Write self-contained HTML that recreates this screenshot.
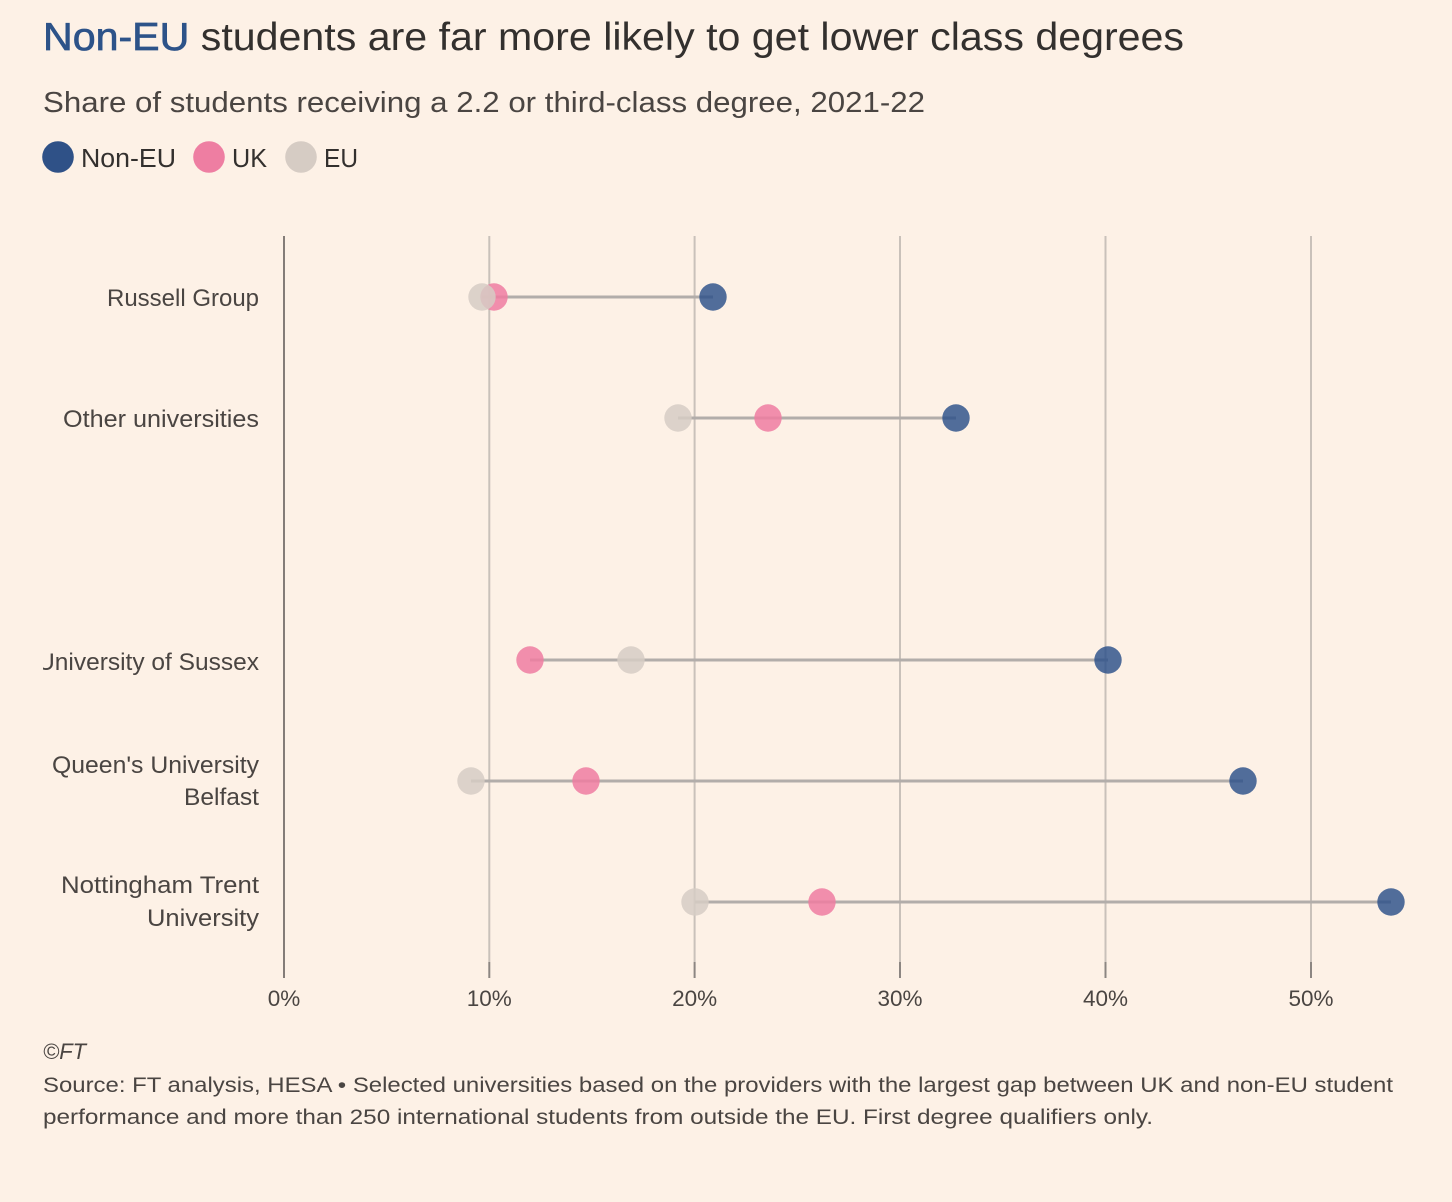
<!DOCTYPE html>
<html>
<head>
<meta charset="utf-8">
<style>
  html,body{margin:0;padding:0;background:#fdf1e6;}
  svg{display:block;}
  text{font-family:"Liberation Sans",sans-serif;}
</style>
</head>
<body>
<svg width="1452" height="1202" viewBox="0 0 1452 1202" xmlns="http://www.w3.org/2000/svg">
  <rect x="0" y="0" width="1452" height="1202" fill="#fdf1e6"/>
  <defs>
    <clipPath id="lc"><rect x="43" y="230" width="240" height="740"/></clipPath>
  </defs>

  <!-- Title -->
  <text x="43" y="50" font-size="39" fill="#33302e" textLength="1141" lengthAdjust="spacingAndGlyphs"><tspan fill="#2d5389" stroke="#2d5389" stroke-width="0.7">Non-EU</tspan> students are far more likely to get lower class degrees</text>
  <!-- Subtitle -->
  <text x="43" y="112" font-size="28.5" fill="#4a4542" textLength="882" lengthAdjust="spacingAndGlyphs">Share of students receiving a 2.2 or third-class degree, 2021-22</text>

  <!-- Legend -->
  <circle cx="58" cy="157" r="15.8" fill="#2f5187"/>
  <text x="81" y="167" font-size="25.5" fill="#33302e" textLength="95" lengthAdjust="spacingAndGlyphs">Non-EU</text>
  <circle cx="209" cy="157" r="15.8" fill="#ee7ea2"/>
  <text x="232" y="167" font-size="25.5" fill="#33302e" textLength="35" lengthAdjust="spacingAndGlyphs">UK</text>
  <circle cx="301" cy="157" r="15.8" fill="#d6ccc4"/>
  <text x="324" y="167" font-size="25.5" fill="#33302e" textLength="34" lengthAdjust="spacingAndGlyphs">EU</text>

  <!-- Gridlines -->
  <g stroke="#c9c1ba" stroke-width="2">
    <line x1="489.3" y1="236" x2="489.3" y2="962"/>
    <line x1="694.6" y1="236" x2="694.6" y2="962"/>
    <line x1="900" y1="236" x2="900" y2="962"/>
    <line x1="1105.5" y1="236" x2="1105.5" y2="962"/>
    <line x1="1311" y1="236" x2="1311" y2="962"/>
  </g>
  <g stroke="#8c8682" stroke-width="2">
    <line x1="489.3" y1="962" x2="489.3" y2="978"/>
    <line x1="694.6" y1="962" x2="694.6" y2="978"/>
    <line x1="900" y1="962" x2="900" y2="978"/>
    <line x1="1105.5" y1="962" x2="1105.5" y2="978"/>
    <line x1="1311" y1="962" x2="1311" y2="978"/>
  </g>
  <line x1="284" y1="236" x2="284" y2="978" stroke="#66605c" stroke-width="1.6"/>

  <!-- Tick labels -->
  <g font-size="22.5" fill="#4a4542" text-anchor="middle">
    <text x="284" y="1006">0%</text>
    <text x="489.3" y="1006">10%</text>
    <text x="694.6" y="1006">20%</text>
    <text x="900" y="1006">30%</text>
    <text x="1105.5" y="1006">40%</text>
    <text x="1311" y="1006">50%</text>
  </g>

  <!-- Category labels -->
  <g font-size="24.5" fill="#4a4542" clip-path="url(#lc)">
    <text x="107" y="306" textLength="152" lengthAdjust="spacingAndGlyphs">Russell Group</text>
    <text x="63" y="427" textLength="196" lengthAdjust="spacingAndGlyphs">Other universities</text>
    <text x="259" y="670" text-anchor="end">University of Sussex</text>
    <text x="52" y="773" textLength="207" lengthAdjust="spacingAndGlyphs">Queen's University</text>
    <text x="184" y="805" textLength="75" lengthAdjust="spacingAndGlyphs">Belfast</text>
    <text x="61" y="893" textLength="198" lengthAdjust="spacingAndGlyphs">Nottingham Trent</text>
    <text x="147" y="926" textLength="112" lengthAdjust="spacingAndGlyphs">University</text>
  </g>

  <!-- Connectors -->
  <g stroke="#b2adaa" stroke-width="3">
    <line x1="482" y1="297" x2="713" y2="297"/>
    <line x1="678" y1="418" x2="956" y2="418"/>
    <line x1="530" y1="660" x2="1108" y2="660"/>
    <line x1="471" y1="781" x2="1243" y2="781"/>
    <line x1="695" y1="902" x2="1391" y2="902"/>
  </g>

  <!-- Dots -->
  <g>
    <circle cx="713" cy="297" r="13.7" fill="#2b4f89" fill-opacity="0.82"/>
    <circle cx="494" cy="297" r="13.7" fill="#ee7ca1" fill-opacity="0.85"/>
    <circle cx="482" cy="297" r="13.7" fill="#d6ccc4" fill-opacity="0.85"/>

    <circle cx="956" cy="418" r="13.7" fill="#2b4f89" fill-opacity="0.82"/>
    <circle cx="768" cy="418" r="13.7" fill="#ee7ca1" fill-opacity="0.85"/>
    <circle cx="678" cy="418" r="13.7" fill="#d6ccc4" fill-opacity="0.85"/>

    <circle cx="1108" cy="660" r="13.7" fill="#2b4f89" fill-opacity="0.82"/>
    <circle cx="530" cy="660" r="13.7" fill="#ee7ca1" fill-opacity="0.85"/>
    <circle cx="631" cy="660" r="13.7" fill="#d6ccc4" fill-opacity="0.85"/>

    <circle cx="1243" cy="781" r="13.7" fill="#2b4f89" fill-opacity="0.82"/>
    <circle cx="586" cy="781" r="13.7" fill="#ee7ca1" fill-opacity="0.85"/>
    <circle cx="471" cy="781" r="13.7" fill="#d6ccc4" fill-opacity="0.85"/>

    <circle cx="1391" cy="902" r="13.7" fill="#2b4f89" fill-opacity="0.82"/>
    <circle cx="822" cy="902" r="13.7" fill="#ee7ca1" fill-opacity="0.85"/>
    <circle cx="695" cy="902" r="13.7" fill="#d6ccc4" fill-opacity="0.85"/>
  </g>

  <!-- Footer -->
  <text x="43" y="1059" font-size="22" font-style="italic" fill="#4a4542">©FT</text>
  <text x="43" y="1092" font-size="21.5" fill="#4a4542" textLength="1350" lengthAdjust="spacingAndGlyphs">Source: FT analysis, HESA • Selected universities based on the providers with the largest gap between UK and non-EU student</text>
  <text x="43" y="1124" font-size="21.5" fill="#4a4542" textLength="1110" lengthAdjust="spacingAndGlyphs">performance and more than 250 international students from outside the EU. First degree qualifiers only.</text>
</svg>
</body>
</html>
